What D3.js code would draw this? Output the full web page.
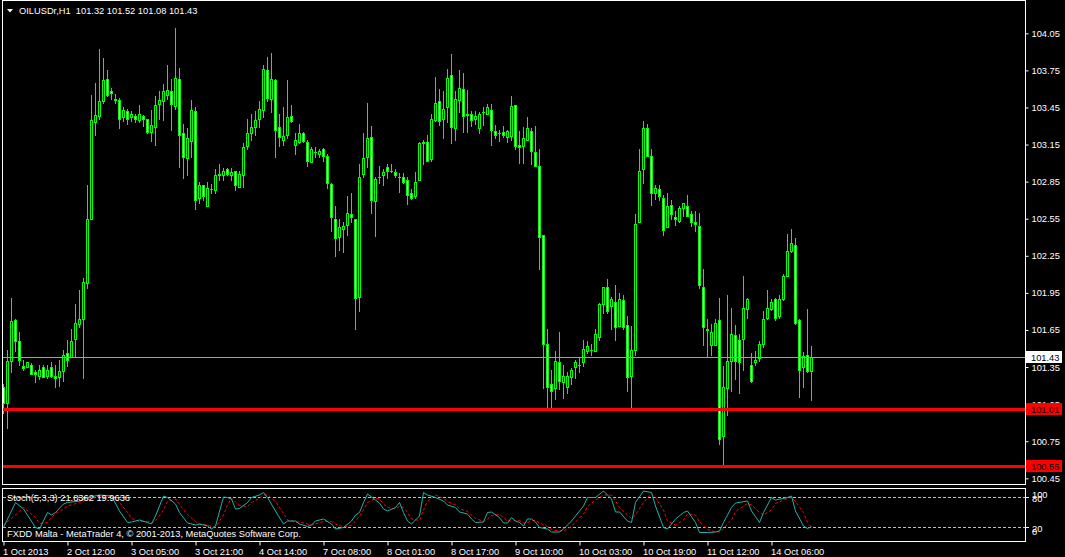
<!DOCTYPE html>
<html><head><meta charset="utf-8">
<script src="https://cdn.jsdelivr.net/npm/d3@7"></script>
<style>
html,body{margin:0;padding:0;background:#000;overflow:hidden}
svg{display:block}
text{font-family:"Liberation Sans",Arial,sans-serif;font-size:9.3px;fill:#fff}
</style></head><body>
<svg id="chart" width="1065" height="557"></svg>
<script>
// ---------- DATA (OILUSDr, H1) ----------
const symbolTitle = "OILUSDr,H1  101.32 101.52 101.08 101.43";
const open = [101.19,101.06,101.40,101.73,101.56,101.36,101.35,101.37,101.31,101.28,
101.35,101.28,101.35,101.28,101.27,101.32,101.46,101.43,101.58,101.70,
101.74,102.03,102.55,103.33,103.38,103.50,103.68,103.58,103.52,103.51,
103.37,103.42,103.37,103.38,103.35,103.38,103.36,103.25,103.29,103.48,
103.50,103.55,103.58,103.46,103.68,103.24,103.04,103.18,103.42,102.72,
102.82,102.65,102.79,102.78,102.90,102.90,102.95,102.90,102.94,102.81,
102.90,103.14,103.24,103.29,103.36,103.43,103.75,103.52,103.67,103.29,
103.19,103.23,103.38,103.15,103.17,103.24,103.17,103.01,103.09,103.07,
103.11,103.06,102.83,102.55,102.40,102.47,102.50,102.59,102.55,101.92,
102.91,103.05,103.21,102.69,102.89,102.90,102.97,102.94,102.93,102.89,
102.89,102.86,102.76,102.73,102.86,103.16,103.17,103.03,103.35,103.50,
103.36,103.45,103.71,103.28,103.51,103.60,103.40,103.40,103.36,103.28,
103.41,103.40,103.43,103.26,103.24,103.25,103.21,103.22,103.47,103.15,
103.14,103.19,103.26,103.09,102.98,102.42,101.54,101.21,101.18,101.39,
101.23,101.19,101.27,101.35,101.37,101.39,101.48,101.49,101.48,101.59,
101.86,102.00,101.84,101.88,101.68,101.89,101.69,101.28,101.49,102.52,
102.95,103.28,103.06,102.76,102.79,102.72,102.48,102.66,102.56,102.53,
102.64,102.65,102.59,102.52,102.49,102.00,101.66,101.53,101.53,101.73,
100.79,101.18,101.40,101.61,101.57,101.58,101.82,101.37,101.39,101.42,
101.54,101.75,101.82,101.90,101.76,101.90,102.09,102.29,102.34,101.73,
101.35,101.45,101.32];
const high = [101.21,101.49,101.91,101.74,101.63,101.41,101.39,101.38,101.33,101.37,
101.37,101.37,101.39,101.37,101.41,101.49,101.57,101.66,101.86,101.97,
102.07,102.82,103.55,103.65,103.92,103.85,103.75,103.61,103.56,103.53,
103.45,103.44,103.42,103.40,103.47,103.39,103.36,103.43,103.54,103.58,
103.64,103.79,103.68,104.09,103.77,103.32,103.28,103.51,103.45,102.85,
102.82,102.85,102.83,102.95,102.99,102.96,102.96,102.96,102.94,102.94,
103.16,103.36,103.40,103.42,103.50,103.79,103.86,103.89,103.68,103.40,
103.45,103.67,103.47,103.24,103.32,103.25,103.19,103.13,103.13,103.11,
103.12,103.07,102.84,102.65,102.55,102.52,102.73,102.76,102.55,102.99,
103.24,103.49,103.30,102.89,102.98,102.95,102.99,102.99,102.95,102.92,
102.92,102.89,102.79,102.93,103.17,103.19,103.23,103.40,103.70,103.60,
103.58,103.76,103.88,103.58,103.75,103.73,103.59,103.42,103.42,103.41,
103.45,103.48,103.48,103.31,103.27,103.30,103.27,103.54,103.47,103.26,
103.29,103.37,103.28,103.30,103.11,102.42,101.66,101.33,101.48,101.63,
101.37,101.31,101.34,101.41,101.42,101.57,101.56,101.54,101.66,101.87,
102.00,102.06,101.92,102.01,101.95,101.93,101.76,101.68,102.59,103.11,
103.34,103.32,103.11,102.82,102.82,102.74,102.76,102.70,102.61,102.65,
102.68,102.74,102.61,102.61,102.60,102.14,101.74,101.70,101.74,101.91,
101.36,101.93,101.83,101.69,101.62,102.09,101.91,101.46,101.48,101.56,
101.80,101.97,101.90,101.91,101.93,102.10,102.43,102.47,102.39,101.74,
101.47,101.82,101.52];
const low = [100.98,100.86,101.31,101.48,101.37,101.33,101.35,101.29,101.23,101.25,
101.27,101.26,101.27,101.19,101.20,101.24,101.36,101.43,101.44,101.67,
101.26,101.99,102.55,103.23,103.36,103.49,103.54,103.52,103.49,103.28,
103.34,103.32,103.34,103.33,103.33,103.30,103.24,103.18,103.15,103.36,
103.35,103.52,103.27,103.44,102.97,102.88,102.90,103.05,102.63,102.68,
102.70,102.65,102.76,102.76,102.86,102.86,102.90,102.86,102.78,102.81,
102.81,103.11,103.19,103.23,103.29,103.37,103.50,103.41,103.05,103.14,
103.15,103.20,103.33,103.07,103.16,103.17,102.98,103.01,103.05,103.05,
103.02,102.80,102.45,102.25,102.30,102.28,102.42,102.52,101.66,101.80,
102.89,102.97,102.60,102.41,102.84,102.82,102.88,102.93,102.89,102.77,
102.84,102.67,102.71,102.72,102.86,102.99,103.02,103.02,103.34,103.31,
103.20,103.33,103.16,103.19,103.41,103.25,103.25,103.30,103.32,103.24,
103.31,103.40,103.15,103.20,103.18,103.21,103.17,103.19,103.11,103.00,
103.00,103.19,102.99,102.98,102.14,101.18,101.02,101.02,101.09,101.17,
101.10,101.14,101.21,101.26,101.31,101.36,101.46,101.45,101.48,101.57,
101.79,101.79,101.66,101.57,101.68,101.66,101.16,101.02,101.45,102.52,
102.84,103.08,102.66,102.71,102.70,102.42,102.48,102.55,102.50,102.52,
102.57,102.57,102.49,102.45,101.99,101.53,101.44,101.45,101.53,100.73,
100.55,100.96,101.16,101.25,101.14,101.33,101.75,101.23,101.37,101.40,
101.51,101.74,101.81,101.73,101.75,101.89,102.09,102.28,101.70,101.11,
101.19,101.31,101.08];
const close = [101.06,101.40,101.72,101.56,101.41,101.34,101.39,101.29,101.29,101.33,
101.27,101.33,101.28,101.26,101.32,101.45,101.41,101.56,101.71,101.74,
102.04,102.55,103.35,103.39,103.50,103.67,103.55,103.57,103.51,103.36,
103.43,103.36,103.40,103.36,103.40,103.36,103.25,103.31,103.47,103.51,
103.58,103.59,103.48,103.69,103.23,103.05,103.20,103.43,102.70,102.82,
102.73,102.80,102.79,102.90,102.91,102.94,102.91,102.93,102.82,102.91,
103.13,103.24,103.29,103.35,103.44,103.76,103.53,103.68,103.27,103.21,
103.22,103.37,103.34,103.19,103.24,103.18,103.02,103.11,103.09,103.10,
103.06,102.84,102.56,102.39,102.48,102.49,102.60,102.56,101.91,102.89,
103.04,103.20,102.70,102.87,102.89,102.93,102.94,102.94,102.90,102.89,
102.85,102.74,102.72,102.85,103.16,103.17,103.02,103.36,103.49,103.34,
103.44,103.69,103.29,103.52,103.61,103.38,103.39,103.35,103.38,103.40,
103.41,103.45,103.27,103.23,103.24,103.23,103.26,103.46,103.14,103.13,
103.20,103.28,103.10,102.98,102.40,101.54,101.19,101.16,101.40,101.24,
101.28,101.28,101.33,101.39,101.37,101.50,101.52,101.49,101.62,101.86,
102.00,101.80,101.90,101.67,101.90,101.67,101.27,101.49,102.51,102.94,
103.28,103.06,102.76,102.80,102.73,102.46,102.65,102.59,102.55,102.64,
102.68,102.57,102.52,102.51,102.01,101.67,101.65,101.63,101.71,100.77,
101.19,101.40,101.62,101.40,101.39,101.83,101.90,101.24,101.41,101.54,
101.74,101.83,101.88,101.75,101.90,102.09,102.29,102.35,101.71,101.33,
101.44,101.32,101.43];

const priceTicks = [104.05,103.75,103.45,103.15,102.85,102.55,102.25,101.95,101.65,101.35,101.05,100.75,100.45];
const timeLabels = ["1 Oct 2013","2 Oct 12:00","3 Oct 05:00","3 Oct 21:00","4 Oct 14:00","7 Oct 08:00","8 Oct 01:00","8 Oct 17:00","9 Oct 10:00","10 Oct 03:00","10 Oct 19:00","11 Oct 12:00","14 Oct 06:00"];
const timeLabelBars = [0,16,32,48,64,80,96,112,128,144,160,176,192];
const levelPrices = [101.01, 100.55];
const bidPrice = 101.43;

// Stochastic (5,3,3): bar index, main %K, signal %D
const stochBars = [0,3,5,8,9,11,12,13,15,16,19,21,24,27,29,31,32,34,36,37,38,40,41,43,44,46,48,49,51,52,53,55,56,57,58,59,61,62,64,65,66,68,70,71,73,74,76,77,78,80,82,83,85,87,88,89,90,91,93,94,95,96,98,99,100,101,102,104,105,106,108,110,111,113,114,116,117,118,120,121,122,124,125,126,127,128,129,130,131,132,133,134,136,137,139,140,142,143,145,146,148,150,152,153,154,156,157,158,160,162,163,165,166,168,170,171,173,174,176,178,179,180,182,183,186,187,189,190,192,193,196,197,198,200,201,202];
const stochMain = [20,70,57,20,17,50,45,50,67,70,73,80,85,83,53,30,31,35,30,27,43,83,80,67,50,29,25,27,23,17,23,81,80,77,57,58,70,80,85,90,80,53,27,33,33,27,22,25,33,37,27,17,20,33,45,50,70,87,75,69,57,53,60,70,50,33,27,43,90,85,80,73,65,60,51,47,37,30,31,50,51,40,29,29,40,33,30,23,37,37,31,20,17,11,11,17,33,43,63,80,80,93,77,51,51,33,30,70,93,90,63,20,17,37,50,53,30,10,10,11,13,30,60,69,73,53,30,50,80,75,80,83,53,23,18,21.84];
const stochSignal = [25,45,60,40,28,30,40,48,57,63,70,76,82,84,70,50,38,32,32,30,33,55,72,77,66,46,32,27,25,22,21,45,65,79,71,64,62,70,78,85,85,72,48,35,31,31,27,25,27,32,32,27,21,25,33,43,55,70,78,77,67,60,57,62,60,50,37,34,55,73,85,78,72,65,58,52,45,38,32,37,44,46,40,33,33,34,34,29,30,33,35,29,22,16,13,13,22,31,47,62,75,85,85,73,60,45,38,45,70,88,80,55,33,25,35,47,45,31,16,11,11,18,35,52,68,65,50,45,55,68,78,80,72,50,30,19.96];
const stochLevels = [80, 20];
const stochTitle = "Stoch(5,3,3) 21.8362 19.9636";
const footer = "FXDD Malta - MetaTrader 4, \u00A9 2001-2013, MetaQuotes Software Corp.";

// ---------- DRAW ----------
const W = 1065, H = 557;
const FONT = '"Liberation Sans",Arial,sans-serif';
const svg = d3.select("#chart");
svg.append("rect").attr("width", W).attr("height", H).attr("fill", "#000");

const x = d3.scaleLinear().domain([0, 202]).range([3.5, 811.5]);
const y = d3.scaleLinear().domain([100.45, 104.05]).range([478.3, 33.3]);
const ys = d3.scaleLinear().domain([0, 100]).range([537.5, 487.5]);

const LIME = "#00ff00";
const defs = svg.append("defs");
defs.append("clipPath").attr("id", "mainClip").append("rect")
  .attr("x", 3).attr("y", 1).attr("width", 1022).attr("height", 483);
defs.append("clipPath").attr("id", "stochClip").append("rect")
  .attr("x", 3).attr("y", 489).attr("width", 1022).attr("height", 52);

const bars = open.map((o, i) => ({ i, o, h: high[i], l: low[i], c: close[i] }));
const gMain = svg.append("g").attr("clip-path", "url(#mainClip)");

// wicks
gMain.selectAll("line.wick").data(bars).join("line").attr("class", "wick")
  .attr("x1", d => x(d.i)).attr("x2", d => x(d.i))
  .attr("y1", d => Math.round(y(d.h))).attr("y2", d => Math.round(y(d.l)) + 1)
  .attr("stroke", LIME).attr("stroke-width", 1).attr("shape-rendering", "crispEdges");
// bodies
const bodyTop = d => Math.round(y(Math.max(d.o, d.c)));
const bodyBot = d => Math.round(y(Math.min(d.o, d.c)));
gMain.selectAll("rect.body").data(bars).join("rect").attr("class", "body")
  .attr("x", d => x(d.i) - 1.5).attr("width", 3)
  .attr("y", bodyTop).attr("height", d => bodyBot(d) - bodyTop(d) + 1)
  .attr("fill", LIME).attr("shape-rendering", "crispEdges");
gMain.selectAll("rect.fill").data(bars.filter(d => bodyBot(d) - bodyTop(d) >= 2)).join("rect").attr("class", "fill")
  .attr("x", d => x(d.i) - 0.5).attr("width", 1)
  .attr("y", d => bodyTop(d) + 1).attr("height", d => bodyBot(d) - bodyTop(d) - 1)
  .attr("fill", d => d.c >= d.o ? "#000" : "#fff").attr("shape-rendering", "crispEdges");

// bid line
gMain.append("line").attr("x1", 3).attr("x2", 1025)
  .attr("y1", Math.round(y(bidPrice)) + 0.5).attr("y2", Math.round(y(bidPrice)) + 0.5)
  .attr("stroke", "#a0a0a4").attr("stroke-width", 1);
// horizontal level lines (red)
gMain.selectAll("line.lvl").data(levelPrices).join("line").attr("class", "lvl")
  .attr("x1", 3).attr("x2", 1025)
  .attr("y1", d => Math.round(y(d)) + 0.5).attr("y2", d => Math.round(y(d)) + 0.5)
  .attr("stroke", "#ff0000").attr("stroke-width", 3);

// frames
const frame = (x0, y0, x1, y1) => svg.append("rect").attr("x", x0).attr("y", y0)
  .attr("width", x1 - x0).attr("height", y1 - y0).attr("fill", "none")
  .attr("stroke", "#fff").attr("stroke-width", 1).attr("shape-rendering", "crispEdges");
frame(2.5, 0.5, 1025.5, 484.5);
frame(2.5, 488.5, 1025.5, 541.5);

// right price axis
const yAxis = d3.axisRight(y).tickValues(priceTicks).tickSize(3).tickPadding(3)
  .tickFormat(d3.format(".2f"));
const gy = svg.append("g").attr("transform", "translate(1025.5,0)").call(yAxis);
gy.select(".domain").remove();
gy.selectAll(".tick line").attr("stroke", "#fff");
gy.selectAll(".tick text").attr("fill", "#fff").style("font-size", "9.3px").style("font-family", FONT);

// price boxes
function priceBox(p, bg, fg) {
  const yy = Math.round(y(p));
  svg.append("rect").attr("x", 1026).attr("y", yy - 6).attr("width", 36).attr("height", 12).attr("fill", bg);
  svg.append("text").attr("x", 1031).attr("y", yy + 3.5).text(d3.format(".2f")(p)).style("fill", fg);
}
priceBox(bidPrice, "#fff", "#000");
levelPrices.forEach(p => priceBox(p, "#ff0000", "#000"));

// title
svg.append("path").attr("d", "M7,9 L13,9 L10,12.5 Z").attr("fill", "#fff");
svg.append("text").attr("x", 19).attr("y", 14).text(symbolTitle).attr("xml:space", "preserve");

// stochastic panel
const gS = svg.append("g").attr("clip-path", "url(#stochClip)");
gS.selectAll("line.slvl").data(stochLevels).join("line").attr("class", "slvl")
  .attr("x1", 3).attr("x2", 1025)
  .attr("y1", d => ys(d)).attr("y2", d => ys(d))
  .attr("stroke", "#c0c0c0").attr("stroke-width", 1).attr("stroke-dasharray", "3,2");
const lineMain = d3.line().x((d, k) => x(stochBars[k])).y(d => ys(d));
gS.append("path").datum(stochSignal).attr("d", lineMain).attr("fill", "none")
  .attr("stroke", "#ff0000").attr("stroke-width", 1).attr("stroke-dasharray", "3,2");
gS.append("path").datum(stochMain).attr("d", lineMain).attr("fill", "none")
  .attr("stroke", "#20b2aa").attr("stroke-width", 1);
svg.append("text").attr("x", 7).attr("y", 500.5).text(stochTitle);
svg.append("text").attr("x", 7).attr("y", 537).text(footer);

// stoch axis labels (100/80 and 20/0 overlap as in MetaTrader)
const sLabels = [{t:"100", yy:495}, {t:"80", yy:498.5}, {t:"20", yy:528.5}, {t:"0", yy:532}];
svg.selectAll("text.sl").data(sLabels).join("text").attr("class", "sl")
  .attr("x", 1032).attr("y", d => d.yy + 3).text(d => d.t);
svg.selectAll("line.st").data(stochLevels).join("line").attr("class", "st")
  .attr("x1", 1026).attr("x2", 1029).attr("y1", d => ys(d)).attr("y2", d => ys(d))
  .attr("stroke", "#fff").attr("stroke-width", 1);

// bottom time axis
const xAxis = d3.axisBottom(x).tickValues(timeLabelBars).tickSize(4).tickPadding(3)
  .tickFormat((d, k) => timeLabels[k]);
const gx = svg.append("g").attr("transform", "translate(0,541.5)").call(xAxis);
gx.select(".domain").remove();
gx.selectAll(".tick line").attr("stroke", "#fff");
gx.selectAll(".tick text").attr("fill", "#fff").attr("text-anchor", "start").attr("x", -1)
  .style("font-size", "9.3px").style("font-family", FONT);
</script>
</body></html>
